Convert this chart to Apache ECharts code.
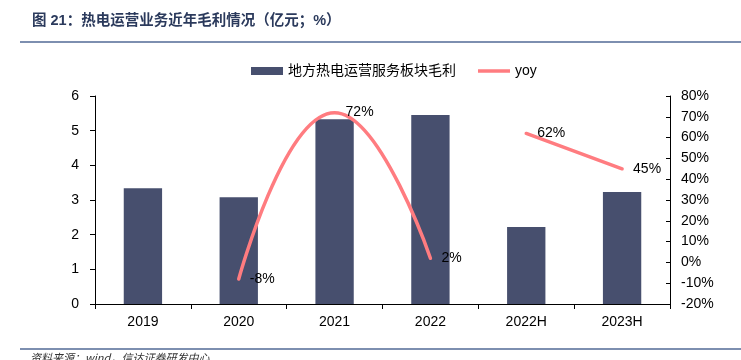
<!DOCTYPE html>
<html><head><meta charset="utf-8">
<script src="https://cdn.jsdelivr.net/npm/echarts@6/dist/echarts.min.js"></script>
<style>html,body{margin:0;padding:0;background:#fff}#c{width:741px;height:360px}</style>
</head><body><div id="c"></div>
<script>
const categories = ['2019','2020','2021','2022','2022H','2023H'];
const grossProfit = [3.34, 3.08, 5.33, 5.45, 2.22, 3.23];
const yoyAnnual = [null, -8, 72, 2, null, null];
const yoyHalf = [null, null, null, null, 62, 45];
const leftTicks = {min: 0, max: 6, interval: 1};
const rightTicks = {min: -20, max: 80, interval: 10};
const dividerAt = 3.5;

const FONT = '"Liberation Sans", Arial, "Noto Sans CJK SC", sans-serif';
const chart = echarts.init(document.getElementById('c'), null, {renderer: 'canvas'});
const lineColor = '#ff7c80';
const labelCfg = {show: true, position: 'right', distance: 11, color: '#000', fontSize: 14, fontFamily: FONT, formatter: p => p.value + '%'};
const lineSeries = (data) => ({
  name: 'yoy', type: 'line', yAxisIndex: 1, data: data, smooth: 0.5,
  showSymbol: true, symbol: 'circle', symbolSize: 0, connectNulls: false,
  lineStyle: {color: lineColor, width: 3.5, cap: 'round'}, itemStyle: {color: lineColor},
  label: labelCfg, z: 3
});
chart.setOption({
  animation: false,
  textStyle: {fontFamily: FONT},
  grid: {left: 95, right: 71, top: 96, bottom: 56},
  legend: {
    data: [
      {name: '地方热电运营服务板块毛利', icon: 'rect'},
      {name: 'yoy', icon: 'path://M0,0 L32,0 L32,3.5 L0,3.5 Z'}
    ],
    left: 246, top: 59, itemWidth: 32, itemHeight: 8, itemGap: 22,
    textStyle: {fontSize: 14, color: '#000', fontFamily: FONT}
  },
  xAxis: [{
    type: 'category', data: categories,
    axisLine: {lineStyle: {color: '#000', width: 1}},
    axisTick: {show: true, alignWithLabel: false, lineStyle: {color: '#000'}},
    axisLabel: {color: '#000', fontSize: 14, margin: 11}
  }, {
    type: 'value', show: false, min: -0.5, max: 5.5
  }],
  yAxis: [{
    type: 'value', min: leftTicks.min, max: leftTicks.max, interval: leftTicks.interval,
    axisLine: {show: true, onZero: false, lineStyle: {color: '#000'}},
    axisTick: {show: true, lineStyle: {color: '#000'}},
    axisLabel: {color: '#000', fontSize: 14, margin: 16},
    splitLine: {show: false}
  }, {
    type: 'value', min: rightTicks.min, max: rightTicks.max, interval: rightTicks.interval,
    position: 'right',
    axisLine: {show: true, onZero: false, lineStyle: {color: '#000'}},
    axisTick: {show: true, inside: true, length: 4, lineStyle: {color: '#000'}},
    axisLabel: {color: '#000', fontSize: 14, margin: 11, formatter: '{value}%'},
    splitLine: {show: false}
  }],
  series: [{
    name: '地方热电运营服务板块毛利', type: 'bar', data: grossProfit,
    barWidth: '40%', itemStyle: {color: '#474f6e'}
  },
  lineSeries(yoyAnnual),
  lineSeries(yoyHalf),
  {
    name: 'divider', type: 'scatter', xAxisIndex: 1, yAxisIndex: 0, data: [],
    markLine: {
      silent: true, symbol: ['none', 'none'], label: {show: false},
      lineStyle: {color: '#c00000', type: [6, 4], width: 2},
      data: [[{coord: [dividerAt, -0.12]}, {coord: [dividerAt, 6.25]}]]
    }
  }],
  graphic: [
    {type: 'text', left: 32, top: 14, style: {text: '图 21：热电运营业务近年毛利情况（亿元；%）', fill: '#2b3a5c', font: 'bold 14.5px "Liberation Sans", "Noto Sans CJK SC", sans-serif'}},
    {type: 'rect', shape: {x: 20, y: 41, width: 721, height: 2}, style: {fill: '#7d8fb0'}},
    {type: 'rect', shape: {x: 20, y: 348, width: 721, height: 2}, style: {fill: '#7d8fb0'}},
    {type: 'text', left: 30, top: 352, style: {text: '资料来源：wind，信达证券研发中心', fill: '#333', font: 'italic 11px "Noto Sans CJK SC", sans-serif'}}
  ]
});
</script></body></html>
